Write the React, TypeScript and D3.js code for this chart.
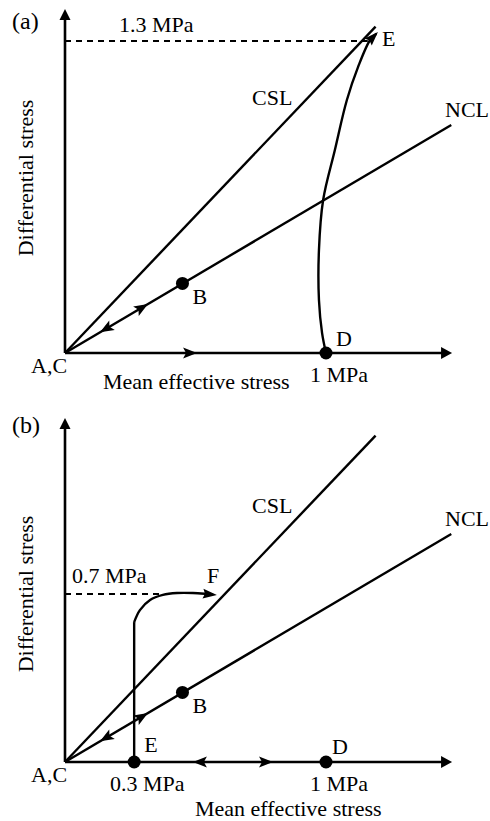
import React from 'react';
import * as d3 from 'd3';

const W = 490;
const H = 821;

// Values in MPa: p = mean effective stress, q = differential stress
const cslEnd = [1.19, 1.36];
const nclEnd = [1.48, 0.95];
const pointB = [0.45, 0.29];
const pointD = [1.0, 0];
const pointEb = [0.265, 0];
const axisMax = [1.483, 1.433];
const peakA = [1.16, 1.3]; // dashed line end in (a)
const peakB = [0.375, 0.7]; // dashed line end in (b)
const nclArrowUp = [0.318, 0.204];
const nclArrowDown = [0.134, 0.086];
const xArrowA = [0.506];
const xArrowB = [0.49, 0.797];

// stress path D -> E in (a)
const curveDE_p = [1.0, 0.985, 0.973, 0.973, 0.989, 1.034, 1.08, 1.123, 1.169, 1.199];
const curveDE_q = [0, 0.083, 0.221, 0.429, 0.6375, 0.846, 1.054, 1.192, 1.304, 1.3375];

// stress path E -> F in (b)
const pathEF_p = [0.265, 0.265, 0.287, 0.326, 0.375, 0.429, 0.49, 0.544, 0.582];
const pathEF_q = [0, 0.583, 0.633, 0.675, 0.696, 0.704, 0.704, 0.7, 0.696];

const FONT = "'Liberation Serif', 'Times New Roman', Times, serif";

function head(tx: number, ty: number, ang: number, len = 14, w = 11, notch = 3) {
  const c = Math.cos(ang), s = Math.sin(ang);
  const bx = tx - len * c, by = ty - len * s;
  const nx = tx - (len - notch) * c, ny = ty - (len - notch) * s;
  const px = -s * (w / 2), py = c * (w / 2);
  return `M${tx},${ty}L${bx + px},${by + py}L${nx},${ny}L${bx - px},${by - py}Z`;
}

function Panel({ y0, qPeak, variant }: { y0: number; qPeak: number; variant: 'a' | 'b' }) {
  const x = d3.scaleLinear().domain([0, 1]).range([65, 326]);
  const y = d3.scaleLinear().domain([0, qPeak]).range([y0, y0 - 240 * qPeak]);
  const line = d3.line<[number, number]>().x((d) => x(d[0])).y((d) => y(d[1]));
  const ox = x(0), oy = y(0);
  const axX = x(axisMax[0]);
  const axY = y(axisMax[1]);
  const nclAng = Math.atan2(y(nclEnd[1]) - oy, x(nclEnd[0]) - ox);
  const sw = 2.4;
  const els: React.ReactNode[] = [];

  // axes
  els.push(<line key="ya" x1={ox} y1={oy} x2={ox} y2={axY + 6} stroke="#000" strokeWidth={2.6} />);
  els.push(<path key="yah" d={head(ox, axY, -Math.PI / 2, 11, 11, 0)} fill="#000" />);
  els.push(<line key="xa" x1={ox} y1={oy} x2={axX - 6} y2={oy} stroke="#000" strokeWidth={2.6} />);
  els.push(<path key="xah" d={head(axX, oy, 0, 11, 12, 0)} fill="#000" />);

  // CSL & NCL
  els.push(<path key="csl" d={line([[0, 0], [cslEnd[0], cslEnd[1]]])!} stroke="#000" strokeWidth={sw} fill="none" />);
  els.push(<path key="ncl" d={line([[0, 0], [nclEnd[0], nclEnd[1]]])!} stroke="#000" strokeWidth={sw} fill="none" />);

  // NCL arrows
  els.push(<path key="na1" d={head(x(nclArrowUp[0]), y(nclArrowUp[1]), nclAng)} fill="#000" />);
  els.push(<path key="na2" d={head(x(nclArrowDown[0]), y(nclArrowDown[1]), nclAng + Math.PI)} fill="#000" />);

  if (variant === 'a') {
    const peak = peakA;
    els.push(<line key="dash" x1={ox} y1={y(peak[1])} x2={x(peak[0])} y2={y(peak[1])} stroke="#000" strokeWidth={2} strokeDasharray="6,5" />);
    els.push(<path key="xar" d={head(x(xArrowA[0]), oy, 0)} fill="#000" />);
    const pts: [number, number][] = curveDE_p.map((p, i) => [p, curveDE_q[i]]);
    const curve = d3.line<[number, number]>().x((d) => x(d[0])).y((d) => y(d[1])).curve(d3.curveCatmullRom);
    els.push(<path key="de" d={curve(pts.slice(0, -1).concat([[1.193, 1.33]]))!} stroke="#000" strokeWidth={sw} fill="none" />);
    const n = pts.length;
    const a = Math.atan2(y(pts[n - 1][1]) - y(pts[n - 2][1]), x(pts[n - 1][0]) - x(pts[n - 2][0]));
    els.push(<path key="deh" d={head(x(pts[n - 1][0]), y(pts[n - 1][1]), a, 14, 10, 2)} fill="#000" />);
    els.push(<circle key="D" cx={x(pointD[0])} cy={y(pointD[1])} r={6.5} fill="#000" />);
    els.push(<circle key="B" cx={x(pointB[0])} cy={y(pointB[1])} r={6.5} fill="#000" />);
  } else {
    const peak = peakB;
    els.push(<line key="dash" x1={ox} y1={y(peak[1])} x2={x(peak[0])} y2={y(peak[1])} stroke="#000" strokeWidth={2} strokeDasharray="6,5" />);
    els.push(<path key="xl" d={head(x(xArrowB[0]), oy, Math.PI)} fill="#000" />);
    els.push(<path key="xr" d={head(x(xArrowB[1]), oy, 0)} fill="#000" />);
    const pts: [number, number][] = pathEF_p.map((p, i) => [p, pathEF_q[i]]);
    const vert = line(pts.slice(0, 2))!;
    const curve = d3.line<[number, number]>().x((d) => x(d[0])).y((d) => y(d[1])).curve(d3.curveCatmullRom);
    els.push(<path key="ev" d={vert} stroke="#000" strokeWidth={sw} fill="none" />);
    const arcPts = pts.slice(1);
    els.push(<path key="ef" d={curve(arcPts.slice(0, -1).concat([[0.565, 0.698]]))!} stroke="#000" strokeWidth={sw} fill="none" />);
    const n = pts.length;
    const a = Math.atan2(y(pts[n - 1][1]) - y(pts[n - 2][1]), x(pts[n - 1][0]) - x(pts[n - 2][0]));
    els.push(<path key="efh" d={head(x(pts[n - 1][0]), y(pts[n - 1][1]), a, 14, 10, 2)} fill="#000" />);
    els.push(<circle key="E" cx={x(pointEb[0])} cy={y(pointEb[1])} r={6.5} fill="#000" />);
    els.push(<circle key="D" cx={x(pointD[0])} cy={y(pointD[1])} r={6.5} fill="#000" />);
    els.push(<circle key="B" cx={x(pointB[0])} cy={y(pointB[1])} r={6.5} fill="#000" />);
  }

  const t = (k: string, tx: number, ty: number, s: string, size = 22, extra: any = {}) => (
    <text key={k} x={tx} y={ty} fontSize={size} fontFamily={FONT} fill="#000" {...extra}>{s}</text>
  );

  const bx = x(pointB[0]), by = y(pointB[1]);
  if (variant === 'a') {
    els.push(t('lab', 12, 29, '(a)', 24));
    els.push(t('pk', 119, 32, '1.3 MPa'));
    els.push(t('E', 382, 46, 'E'));
    els.push(t('csl', 252, 105, 'CSL'));
    els.push(t('ncl', 445, 117, 'NCL'));
    els.push(t('B', bx + 10, by + 21, 'B'));
    els.push(t('AC', 31, oy + 20, 'A,C'));
    els.push(t('xl', 103, oy + 36, 'Mean effective stress'));
    els.push(t('D', x(pointD[0]) + 10, oy - 7, 'D'));
    els.push(t('1m', 310, oy + 29, '1 MPa'));
    els.push(t('yl', 0, 0, 'Differential stress', 22, { transform: `translate(33,${oy - 175}) rotate(-90)`, textAnchor: 'middle' }));
  } else {
    els.push(t('lab', 12, 433, '(b)', 24));
    els.push(t('pk', 72, 583, '0.7 MPa'));
    els.push(t('F', 207, 583, 'F'));
    els.push(t('csl', 252, 513, 'CSL'));
    els.push(t('ncl', 445, 526, 'NCL'));
    els.push(t('B', bx + 10, by + 21, 'B'));
    els.push(t('E', x(pointEb[0]) + 10, oy - 10, 'E'));
    els.push(t('AC', 31, oy + 20, 'A,C'));
    els.push(t('03', 110, oy + 29, '0.3 MPa'));
    els.push(t('D', x(pointD[0]) + 6, oy - 8, 'D'));
    els.push(t('1m', 310, oy + 29, '1 MPa'));
    els.push(t('xl', 195, oy + 54, 'Mean effective stress'));
    els.push(t('yl', 0, 0, 'Differential stress', 22, { transform: `translate(33,${oy - 168}) rotate(-90)`, textAnchor: 'middle' }));
  }

  return <g>{els}</g>;
}

export default function App() {
  return (
    <svg width={W} height={H} style={{ position: 'absolute', left: 0, top: 0, background: '#fff' }}>
      <rect width={W} height={H} fill="#fff" />
      <Panel y0={353} qPeak={1.3} variant="a" />
      <Panel y0={762} qPeak={0.7} variant="b" />
    </svg>
  );
}
